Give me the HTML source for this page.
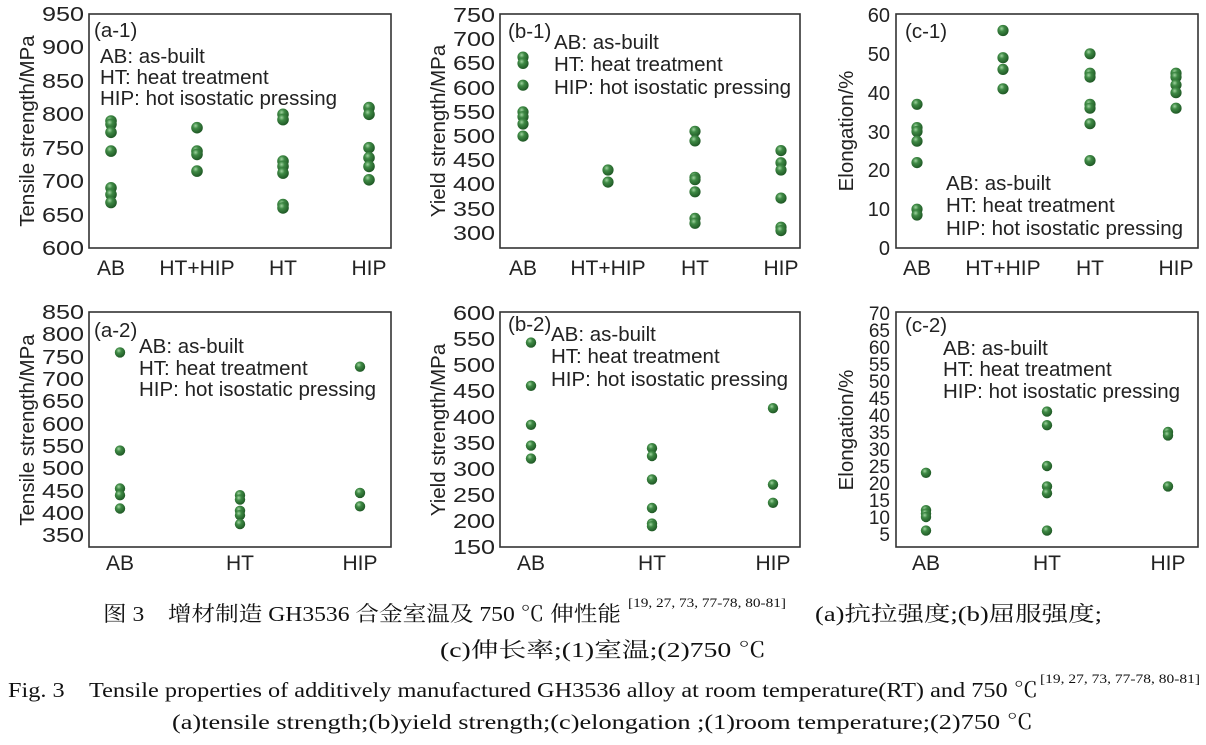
<!DOCTYPE html>
<html><head><meta charset="utf-8"><style>
html,body{margin:0;padding:0;background:#fff;}
svg{display:block;}
text{font-family:"Liberation Sans",sans-serif;fill:#222;}
.t{font-size:20px;text-anchor:end;}
.c{font-size:21px;text-anchor:middle;}
.l{font-size:20.5px;}
.cap{font-family:"Liberation Serif","Noto Serif CJK SC",serif;font-size:21px;fill:#111;}
</style></head><body>
<svg id="s" width="1206" height="745" viewBox="0 0 1206 745" xmlns="http://www.w3.org/2000/svg">
<defs>
<radialGradient id="g" cx="0.38" cy="0.33" r="0.7">
<stop offset="0" stop-color="#9fd39f"/><stop offset="0.35" stop-color="#3f8a45"/><stop offset="1" stop-color="#1d5523"/>
</radialGradient>
</defs>
<g fill="none" stroke="#333" stroke-width="1.6">
<rect x="89" y="14" width="302" height="234"/>
<rect x="500" y="14" width="300" height="234"/>
<rect x="896" y="14" width="302" height="234"/>
<rect x="89" y="312" width="302" height="235"/>
<rect x="500" y="312" width="300" height="235"/>
<rect x="896" y="312" width="302" height="235"/>
</g>
<g class="t">
<text x="84" y="21" textLength="42" lengthAdjust="spacingAndGlyphs">950</text>
<text x="84" y="54" textLength="42" lengthAdjust="spacingAndGlyphs">900</text>
<text x="84" y="88" textLength="42" lengthAdjust="spacingAndGlyphs">850</text>
<text x="84" y="121" textLength="42" lengthAdjust="spacingAndGlyphs">800</text>
<text x="84" y="155" textLength="42" lengthAdjust="spacingAndGlyphs">750</text>
<text x="84" y="188" textLength="42" lengthAdjust="spacingAndGlyphs">700</text>
<text x="84" y="222" textLength="42" lengthAdjust="spacingAndGlyphs">650</text>
<text x="84" y="255" textLength="42" lengthAdjust="spacingAndGlyphs">600</text>
</g>
<g class="t">
<text x="84" y="319" textLength="42" lengthAdjust="spacingAndGlyphs">850</text>
<text x="84" y="341" textLength="42" lengthAdjust="spacingAndGlyphs">800</text>
<text x="84" y="364" textLength="42" lengthAdjust="spacingAndGlyphs">750</text>
<text x="84" y="386" textLength="42" lengthAdjust="spacingAndGlyphs">700</text>
<text x="84" y="408" textLength="42" lengthAdjust="spacingAndGlyphs">650</text>
<text x="84" y="431" textLength="42" lengthAdjust="spacingAndGlyphs">600</text>
<text x="84" y="453" textLength="42" lengthAdjust="spacingAndGlyphs">550</text>
<text x="84" y="475" textLength="42" lengthAdjust="spacingAndGlyphs">500</text>
<text x="84" y="498" textLength="42" lengthAdjust="spacingAndGlyphs">450</text>
<text x="84" y="520" textLength="42" lengthAdjust="spacingAndGlyphs">400</text>
<text x="84" y="542" textLength="42" lengthAdjust="spacingAndGlyphs">350</text>
</g>
<g class="t">
<text x="495" y="22" textLength="42" lengthAdjust="spacingAndGlyphs">750</text>
<text x="495" y="46" textLength="42" lengthAdjust="spacingAndGlyphs">700</text>
<text x="495" y="70" textLength="42" lengthAdjust="spacingAndGlyphs">650</text>
<text x="495" y="95" textLength="42" lengthAdjust="spacingAndGlyphs">600</text>
<text x="495" y="119" textLength="42" lengthAdjust="spacingAndGlyphs">550</text>
<text x="495" y="143" textLength="42" lengthAdjust="spacingAndGlyphs">500</text>
<text x="495" y="167" textLength="42" lengthAdjust="spacingAndGlyphs">450</text>
<text x="495" y="191" textLength="42" lengthAdjust="spacingAndGlyphs">400</text>
<text x="495" y="216" textLength="42" lengthAdjust="spacingAndGlyphs">350</text>
<text x="495" y="240" textLength="42" lengthAdjust="spacingAndGlyphs">300</text>
</g>
<g class="t">
<text x="495" y="320" textLength="42" lengthAdjust="spacingAndGlyphs">600</text>
<text x="495" y="346" textLength="42" lengthAdjust="spacingAndGlyphs">550</text>
<text x="495" y="372" textLength="42" lengthAdjust="spacingAndGlyphs">500</text>
<text x="495" y="398" textLength="42" lengthAdjust="spacingAndGlyphs">450</text>
<text x="495" y="424" textLength="42" lengthAdjust="spacingAndGlyphs">400</text>
<text x="495" y="450" textLength="42" lengthAdjust="spacingAndGlyphs">350</text>
<text x="495" y="476" textLength="42" lengthAdjust="spacingAndGlyphs">300</text>
<text x="495" y="502" textLength="42" lengthAdjust="spacingAndGlyphs">250</text>
<text x="495" y="528" textLength="42" lengthAdjust="spacingAndGlyphs">200</text>
<text x="495" y="554" textLength="42" lengthAdjust="spacingAndGlyphs">150</text>
</g>
<g class="t">
<text x="890" y="22">60</text>
<text x="890" y="61">50</text>
<text x="890" y="100">40</text>
<text x="890" y="139">30</text>
<text x="890" y="177">20</text>
<text x="890" y="216">10</text>
<text x="890" y="255">0</text>
</g>
<g class="t" style="font-size:19px">
<text x="890" y="320">70</text>
<text x="890" y="337">65</text>
<text x="890" y="354">60</text>
<text x="890" y="371">55</text>
<text x="890" y="388">50</text>
<text x="890" y="405">45</text>
<text x="890" y="422">40</text>
<text x="890" y="439">35</text>
<text x="890" y="456">30</text>
<text x="890" y="473">25</text>
<text x="890" y="490">20</text>
<text x="890" y="507">15</text>
<text x="890" y="524">10</text>
<text x="890" y="541">5</text>
</g>
<g class="c">
<text x="111" y="275">AB</text><text x="197" y="275">HT+HIP</text><text x="283" y="275">HT</text><text x="369" y="275">HIP</text>
<text x="523" y="275">AB</text><text x="608" y="275">HT+HIP</text><text x="695" y="275">HT</text><text x="781" y="275">HIP</text>
<text x="917" y="275">AB</text><text x="1003" y="275">HT+HIP</text><text x="1090" y="275">HT</text><text x="1176" y="275">HIP</text>
<text x="120" y="570">AB</text><text x="240" y="570">HT</text><text x="360" y="570">HIP</text>
<text x="531" y="570">AB</text><text x="652" y="570">HT</text><text x="773" y="570">HIP</text>
<text x="926" y="570">AB</text><text x="1047" y="570">HT</text><text x="1168" y="570">HIP</text>
</g>
<g style="font-size:20.5px;text-anchor:middle">
<text transform="translate(34,131) rotate(-90)">Tensile strength/MPa</text>
<text transform="translate(34,430) rotate(-90)">Tensile strength/MPa</text>
<text transform="translate(445,131) rotate(-90)">Yield strength/MPa</text>
<text transform="translate(445,430) rotate(-90)">Yield strength/MPa</text>
<text transform="translate(853,131) rotate(-90)">Elongation/%</text>
<text transform="translate(853,430) rotate(-90)">Elongation/%</text>
</g>
<g class="l">
<text x="94" y="37">(a-1)</text>
<text x="100" y="63">AB: as-built</text>
<text x="100" y="84">HT: heat treatment</text>
<text x="100" y="105">HIP: hot isostatic pressing</text>

<text x="94" y="337">(a-2)</text>
<text x="139" y="353">AB: as-built</text>
<text x="139" y="375">HT: heat treatment</text>
<text x="139" y="396">HIP: hot isostatic pressing</text>

<text x="508" y="38">(b-1)</text>
<text x="554" y="49">AB: as-built</text>
<text x="554" y="71">HT: heat treatment</text>
<text x="554" y="94">HIP: hot isostatic pressing</text>

<text x="508" y="331">(b-2)</text>
<text x="551" y="341">AB: as-built</text>
<text x="551" y="363">HT: heat treatment</text>
<text x="551" y="386">HIP: hot isostatic pressing</text>

<text x="905" y="38">(c-1)</text>
<text x="946" y="190">AB: as-built</text>
<text x="946" y="212">HT: heat treatment</text>
<text x="946" y="235">HIP: hot isostatic pressing</text>

<text x="905" y="332">(c-2)</text>
<text x="943" y="355">AB: as-built</text>
<text x="943" y="376">HT: heat treatment</text>
<text x="943" y="398">HIP: hot isostatic pressing</text>
</g>
<g id="dots"></g>
<text class="cap" x="103" y="621" textLength="518" lengthAdjust="spacingAndGlyphs">图 3　增材制造 GH3536 合金室温及 750 ℃ 伸性能</text>
<text class="cap" x="628" y="607" style="font-size:13px" textLength="158" lengthAdjust="spacingAndGlyphs">[19, 27, 73, 77-78, 80-81]</text>
<text class="cap" x="815" y="621" textLength="287" lengthAdjust="spacingAndGlyphs">(a)抗拉强度;(b)屈服强度;</text>
<text class="cap" x="440" y="657" textLength="326" lengthAdjust="spacingAndGlyphs">(c)伸长率;(1)室温;(2)750 ℃</text>
<text class="cap" x="8" y="697" textLength="1030" lengthAdjust="spacingAndGlyphs">Fig. 3　Tensile properties of additively manufactured GH3536 alloy at room temperature(RT) and 750 ℃</text>
<text class="cap" x="1040" y="683" style="font-size:13px" textLength="160" lengthAdjust="spacingAndGlyphs">[19, 27, 73, 77-78, 80-81]</text>
<text class="cap" x="172" y="729" textLength="861" lengthAdjust="spacingAndGlyphs">(a)tensile strength;(b)yield strength;(c)elongation ;(1)room temperature;(2)750 ℃</text>
</svg>
<script>
var P=[
 {t:14,v:950,k:0.6686,r:5.8,c:[[111,[790,785,773,745,690,680,668]],[197,[780,745,740,715]],[283,[800,792,730,722,712,665,660]],[369,[810,800,750,735,722,702]]]},
 {t:312.3,v:850,k:0.446,r:5.2,c:[[120,[760,540,455,440,410]],[240,[440,430,405,395,375]],[360,[728,445,415]]]},
 {t:15,v:750,k:0.4844,r:5.6,c:[[523,[663,650,605,550,540,525,500]],[608,[430,405]],[695,[510,490,415,410,385,330,320]],[781,[470,445,430,372,312,305]]]},
 {t:313,v:600,k:0.52,r:5.2,c:[[531,[543,460,385,345,320]],[652,[340,325,280,225,195,190]],[773,[417,270,235]]]},
 {t:15,v:60,k:3.883,r:5.6,c:[[917,[37,31,30,27.5,22,10,8.5]],[1003,[56,49,46,41]],[1090,[50,45,44,37,36,32,22.5]],[1176,[45,44,42,40,36]]]},
 {t:313,v:70,k:3.4,r:5.2,c:[[926,[23,12,11,10,6]],[1047,[41,37,25,19,17,6]],[1168,[35,34,19]]]}
];
var g=document.getElementById('dots'),h='';
P.forEach(function(p){p.c.forEach(function(c){c[1].forEach(function(v){
 h+='<circle cx="'+c[0]+'" cy="'+(p.t+(p.v-v)*p.k).toFixed(1)+'" r="'+p.r+'" fill="url(#g)"/>';});});});
g.innerHTML=h;
</script>
</body></html>
